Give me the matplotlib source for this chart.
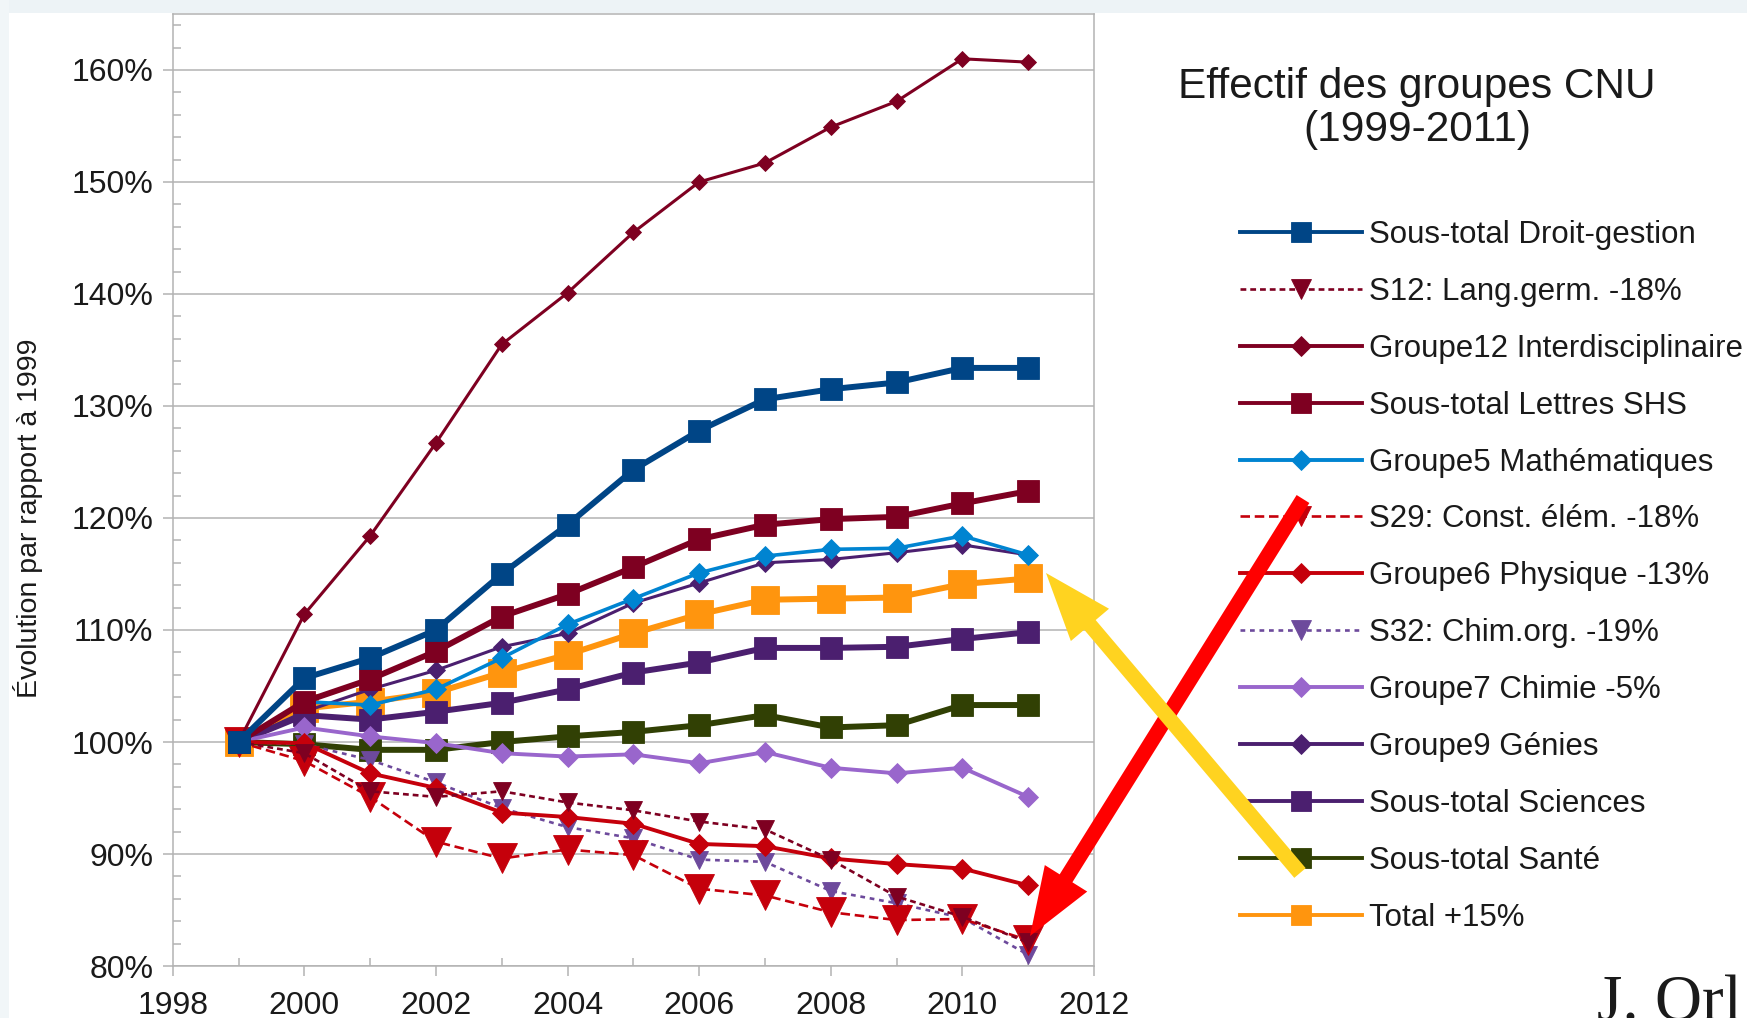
import numpy as np
import matplotlib
matplotlib.use("Agg")
import matplotlib.pyplot as plt
from matplotlib.patches import FancyArrow, Rectangle
from matplotlib.ticker import FuncFormatter, MultipleLocator

plt.rcParams['font.family'] = ['Liberation Sans', 'DejaVu Sans']

# Effectifs relatifs (base 100 en 1999)
years = np.arange(1999, 2012)

droit_gestion = [100, 105.7, 107.5, 110.0, 115.0, 119.4, 124.3, 127.8, 130.6, 131.5, 132.1, 133.4, 133.4]
s12_lang_germ = [100, 99.0, 95.6, 95.1, 95.6, 94.6, 93.9, 92.9, 92.2, 89.5, 86.2, 84.4, 82.1]
g12_interdisc = [100, 111.4, 118.4, 126.7, 135.5, 140.1, 145.5, 150.0, 151.7, 154.9, 157.2, 161.0, 160.7]
lettres_shs = [100, 103.6, 105.6, 108.1, 111.2, 113.2, 115.6, 118.1, 119.4, 119.9, 120.1, 121.3, 122.4]
g5_maths = [100, 103.6, 103.3, 104.7, 107.5, 110.5, 112.8, 115.1, 116.6, 117.2, 117.3, 118.4, 116.7]
s29_const = [100, 98.3, 95.1, 91.1, 89.6, 90.4, 89.9, 86.9, 86.3, 84.8, 84.1, 84.2, 82.3]
g6_physique = [100, 99.9, 97.2, 95.9, 93.7, 93.3, 92.7, 90.9, 90.7, 89.6, 89.1, 88.7, 87.2]
s32_chim_org = [100, 99.8, 98.4, 96.4, 94.1, 92.4, 91.4, 89.5, 89.3, 86.7, 85.6, 84.3, 81.0]
g7_chimie = [100, 101.3, 100.5, 99.9, 99.0, 98.7, 98.9, 98.1, 99.1, 97.7, 97.2, 97.7, 95.1]
g9_genies = [100, 102.7, 104.7, 106.4, 108.5, 109.7, 112.4, 114.2, 116.0, 116.3, 116.9, 117.6, 116.7]
sciences = [100, 102.4, 102.0, 102.7, 103.5, 104.7, 106.2, 107.1, 108.4, 108.4, 108.5, 109.2, 109.8]
sante = [100, 99.8, 99.3, 99.3, 100.0, 100.5, 100.9, 101.5, 102.4, 101.3, 101.5, 103.3, 103.3]
total = [100, 103.0, 103.6, 104.4, 106.2, 107.8, 109.7, 111.4, 112.7, 112.8, 112.9, 114.1, 114.6]

labels = ["Sous-total Droit-gestion", "S12: Lang.germ. -18%", "Groupe12 Interdisciplinaire",
          "Sous-total Lettres SHS", "Groupe5 Mathématiques", "S29: Const. élém. -18%",
          "Groupe6 Physique -13%", "S32: Chim.org. -19%", "Groupe7 Chimie -5%",
          "Groupe9 Génies", "Sous-total Sciences", "Sous-total Santé", "Total +15%"]
values = [droit_gestion, s12_lang_germ, g12_interdisc, lettres_shs, g5_maths, s29_const,
          g6_physique, s32_chim_org, g7_chimie, g9_genies, sciences, sante, total]

# (couleur, marqueur, taille, épaisseur, style)
styles = [
    ("#004586", "s", 16.5, 4.3, "-"),
    ("#7e0021", "v", 13, 1.9, (0, (2.2, 1.5))),
    ("#7e0021", "D", 8.0, 2.2, "-"),
    ("#7e0021", "s", 16.5, 4.3, "-"),
    ("#0084d1", "D", 10.0, 2.6, "-"),
    ("#c5000b", "v", 21, 1.9, (0, (3.6, 1.8))),
    ("#c5000b", "D", 10.0, 2.8, "-"),
    ("#6d4a9c", "v", 12.5, 1.9, (0, (1.8, 1.8))),
    ("#9966cc", "D", 10.0, 2.8, "-"),
    ("#4b1f6f", "D", 9.0, 2.2, "-"),
    ("#4b1f6f", "s", 16.5, 4.3, "-"),
    ("#314004", "s", 16.5, 4.3, "-"),
    ("#ff950e", "s", 19.5, 4.3, "-"),
]

W, H = 1747, 1018
fig = plt.figure(figsize=(W / 100, H / 100), dpi=100)

# léger voile bleuté en haut et à gauche (fond de diapositive)
bg = fig.add_axes([0, 0, 1, 1], zorder=-10)
bg.set_xlim(0, W)
bg.set_ylim(H, 0)
bg.axis("off")
bg.add_patch(Rectangle((0, 0), W, 13, color="#edf3f6", linewidth=0))
bg.add_patch(Rectangle((0, 0), 9, H, color="#f1f6f8", linewidth=0))

ax = fig.add_axes([172.7 / W, 52 / H, (1094 - 172.7) / W, 952 / H])

lines = []
for i, (vals, lab, (col, mk, ms, lw, ls)) in enumerate(zip(values, labels, styles)):
    ln, = ax.plot(years, vals, color=col, marker=mk, markersize=ms, linewidth=lw,
                  linestyle=ls, markeredgewidth=0.6, markeredgecolor=col,
                  label=lab, zorder=30 - i, clip_on=False)
    lines.append(ln)

grey = "#b3b3b3"
ax.set_xlim(1998, 2012)
ax.set_ylim(80, 165)
ax.xaxis.set_major_locator(MultipleLocator(2))
ax.xaxis.set_minor_locator(MultipleLocator(1))
ax.yaxis.set_major_locator(MultipleLocator(10))
ax.yaxis.set_minor_locator(MultipleLocator(2))
ax.set_yticks(np.arange(80, 161, 10))
ax.yaxis.set_major_formatter(FuncFormatter(lambda v, p: f"{v:.0f}%"))
ax.grid(axis="y", which="major", color=grey, linewidth=1.1)
ax.set_axisbelow(True)
for sp in ax.spines.values():
    sp.set_color(grey)
    sp.set_linewidth(1.1)
ax.tick_params(which="major", direction="out", length=7.5, width=1.1, color=grey,
               labelsize=23, labelcolor="#1a1a1a")
ax.tick_params(which="minor", direction="in", length=5.5, width=1.1, color=grey)
ax.tick_params(axis="x", which="major", pad=10.5)
ax.tick_params(axis="y", which="major", pad=6.5)

fig.text(28 / W, 1 - 518 / H, "Évolution par rapport à 1999", rotation=90,
         ha="center", va="center", fontsize=20.5, color="#1a1a1a")

fig.text(1417 / W, 1 - 98 / H, "Effectif des groupes CNU", ha="center", va="baseline",
         fontsize=30.5, color="#1a1a1a")
fig.text(1417 / W, 1 - 141.5 / H, "(1999-2011)", ha="center", va="baseline",
         fontsize=30.5, color="#1a1a1a")

leg = fig.legend(handles=lines, loc="upper left", bbox_to_anchor=(1240 / W, 1 - 220 / H),
                 frameon=False, fontsize=22.5, handlelength=3.9, handletextpad=0.22,
                 labelspacing=0.86, borderpad=0, borderaxespad=0, numpoints=1)
for h, (col, mk, ms, lw, ls) in zip(leg.legend_handles, styles):
    h.set_markersize(9.7 if mk == "D" else 14.4)
    h.set_linewidth(2.8 if ls == "-" else 1.9)
for t in leg.get_texts():
    t.set_color("#1a1a1a")

# flèches d'annotation, en coordonnées pixels de la figure
ov = fig.add_axes([0, 0, 1, 1], zorder=50)
ov.set_xlim(0, W)
ov.set_ylim(H, 0)
ov.axis("off")
ov.patch.set_alpha(0)
ov.add_patch(FancyArrow(1303, 499, -273, 437, width=15, head_width=50, head_length=68,
                        length_includes_head=True, color="#ff0000", linewidth=0))
ov.add_patch(FancyArrow(1300, 873, -254, -300, width=15, head_width=50, head_length=68,
                        length_includes_head=True, color="#ffd320", linewidth=0))

fig.text(1597 / W, -0.002, "J. Orl", family=["Liberation Serif", "DejaVu Serif"],
         fontsize=47, ha="left", va="baseline", color="#1a1a1a")

fig.savefig("out.png", dpi=100)
